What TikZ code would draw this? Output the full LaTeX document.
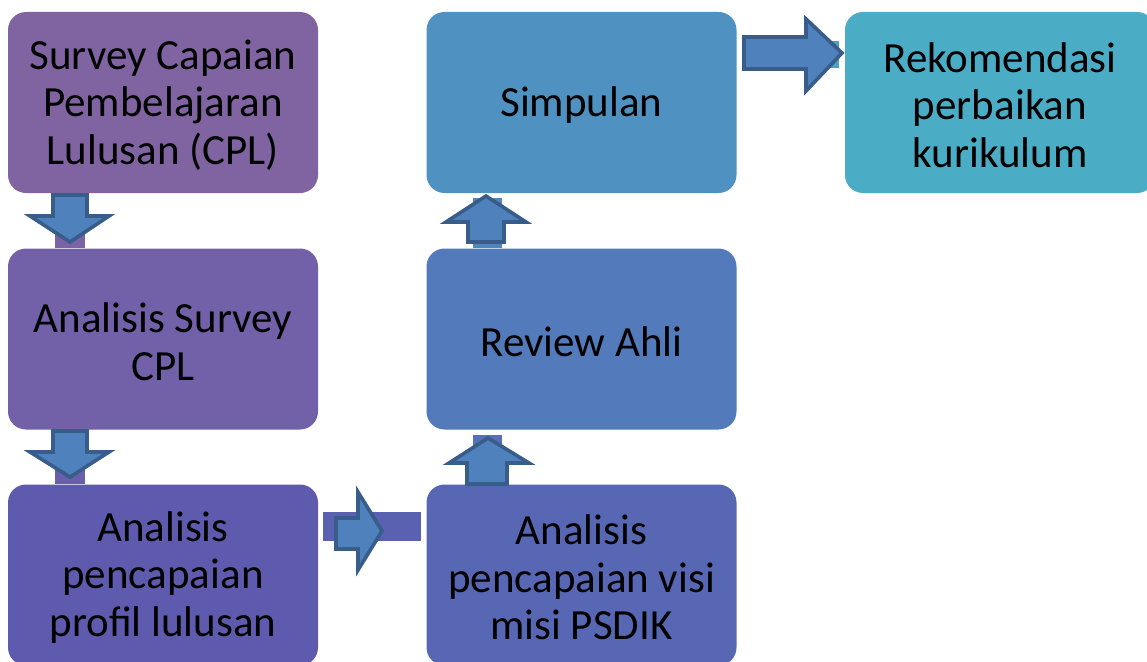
\documentclass[tikz,border=0pt]{standalone}
\usepackage{fontspec}
\setmainfont{Carlito}
\definecolor{c1}{RGB}{128,100,162}
\definecolor{c2}{RGB}{114,96,168}
\definecolor{c3}{RGB}{94,91,174}
\definecolor{c4}{RGB}{87,103,180}
\definecolor{c5}{RGB}{83,122,186}
\definecolor{c6}{RGB}{79,145,192}
\definecolor{c7}{RGB}{75,172,198}
\definecolor{arrfill}{RGB}{79,129,189}
\definecolor{arrline}{RGB}{56,93,138}
\tikzset{
  box/.style={minimum width=310pt, minimum height=181pt, rounded corners=18pt,
    inner sep=0pt, align=center, text=black,
    font=\fontsize{43}{47.5}\selectfont},
  boxtext/.style={inner sep=0pt, align=center, text=black,
    font=\fontsize{43}{47.5}\selectfont},
  blockarrow/.style={fill=arrfill, draw=arrline, line width=3.6pt, line join=miter}
}
\begin{document}
\begin{tikzpicture}[x=1pt,y=1pt]
\useasboundingbox (0,0) rectangle (1147,-661);
\clip (0,0) rectangle (1147,-661);
% connector bars
\fill[c1!50!c2] (55,-193) rectangle (85,-248);
\fill[c2!50!c3] (55,-430) rectangle (85,-484);
\fill[c3!50!c4] (323,-512) rectangle (421,-541);
\fill[c4!50!c5] (473,-435) rectangle (502,-484);
\fill[c5!50!c6] (473,-198) rectangle (502,-248);
\fill[c6!50!c7] (743,-41) rectangle (839,-68);
% boxes
\node[box, fill=c1] (b1) at (163,-102.5) {};
\node[box, fill=c2] (b2) at (163,-339) {};
\node[box, fill=c3] (b3) at (163,-575) {};
\node[box, fill=c4] (b4) at (581.5,-575) {};
\node[box, fill=c5] (b5) at (581.5,-339) {};
\node[box, fill=c6] (b6) at (581.5,-102.5) {};
\node[box, fill=c7] (b7) at (1000,-102.5) {};
% texts
\node[boxtext] (t1) at ([yshift=-2.5pt]b1.center) {Survey Capaian\\Pembelajaran\\Lulusan (CPL)};
\node[boxtext] (t2) at ([yshift=-2.5pt]b2.center) {Analisis Survey\\CPL};
\node[boxtext] (t3) at ([yshift=-2.5pt]b3.center) {Analisis\\pencapaian\\profil lulusan};
\node[boxtext] (t4) at ([yshift=-2.5pt]b4.center) {Analisis\\pencapaian visi\\misi PSDIK};
\node[boxtext] (t5) at ([yshift=-2.5pt]b5.center) {Review Ahli};
\node[boxtext] (t6) at ([yshift=-2.5pt]b6.center) {Simpulan};
\node[boxtext] (t7) at ([yshift=-2.5pt]b7.center) {Rekomendasi\\perbaikan\\kurikulum};
% block arrows
\draw[blockarrow] (53,-195) -- (87,-195) -- (87,-216) -- (109,-216) -- (70,-242) -- (30,-216) -- (53,-216) -- cycle;
\draw[blockarrow] (53,-431) -- (87,-431) -- (87,-452) -- (109,-452) -- (70,-477) -- (30,-452) -- (53,-452) -- cycle;
\draw[blockarrow] (336,-518) -- (358,-518) -- (358,-492) -- (382,-531) -- (358,-570) -- (358,-549) -- (336,-549) -- cycle;
\draw[blockarrow] (467,-484) -- (507,-484) -- (507,-463) -- (529,-463) -- (488,-438) -- (449,-463) -- (467,-463) -- cycle;
\draw[blockarrow] (468,-242) -- (504,-242) -- (504,-222) -- (526,-222) -- (486,-196) -- (446,-222) -- (468,-222) -- cycle;
\draw[blockarrow] (744,-37) -- (806,-37) -- (806,-19) -- (842,-53) -- (806,-91) -- (806,-69) -- (744,-69) -- cycle;
\end{tikzpicture}
\end{document}
